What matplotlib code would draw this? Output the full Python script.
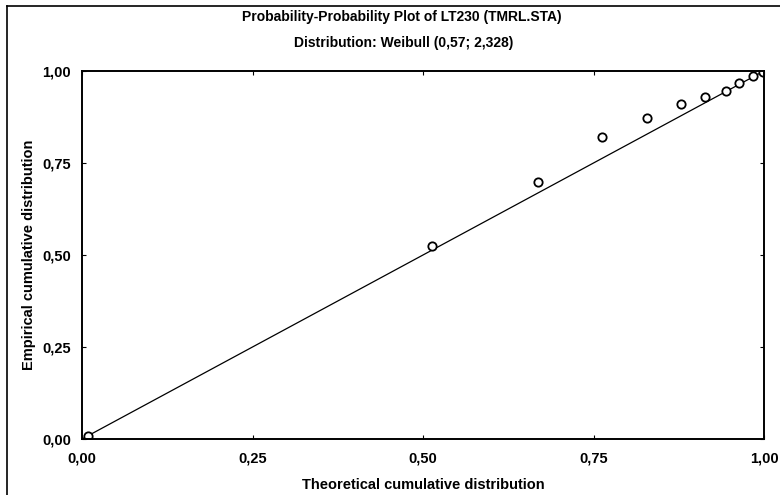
import matplotlib
matplotlib.use("Agg")
import matplotlib.pyplot as plt
from matplotlib import font_manager as fm
from matplotlib.lines import Line2D

names = {f.name for f in fm.fontManager.ttflist}
fam = ['Liberation Sans Narrow', 'Liberation Sans', 'DejaVu Sans'] if 'Liberation Sans Narrow' in names else ['Liberation Sans', 'DejaVu Sans']
plt.rcParams['font.family'] = fam

title1 = "Probability-Probability Plot of LT230 (TMRL.STA)"
title2 = "Distribution: Weibull (0,57; 2,328)"
xlabel = "Theoretical cumulative distribution"
ylabel = "Empirical cumulative distribution"

theoretical = [0.009, 0.513, 0.669, 0.763, 0.829, 0.879, 0.914, 0.944, 0.964, 0.984, 0.998]
empirical = [0.008, 0.525, 0.699, 0.820, 0.871, 0.909, 0.930, 0.946, 0.967, 0.987, 0.998]
ref_line = [0.0, 1.0]
ticks = [0.0, 0.25, 0.5, 0.75, 1.0]
tick_labels = ["0,00", "0,25", "0,50", "0,75", "1,00"]

fig = plt.figure(figsize=(7.8, 4.95), dpi=100)
ax = fig.add_axes([82/780, 1 - 439/495, (764-82)/780, (439-71)/495])

ax.plot(ref_line, ref_line, color='black', lw=0.9)
ax.plot(theoretical, empirical, 'o', mfc='white', mec='black', mew=1.3, ms=6, clip_on=True)

ax.set_xlim(0, 1)
ax.set_ylim(0, 1)
ax.set_xticks(ticks)
ax.set_xticklabels(tick_labels)
ax.set_yticks(ticks)
ax.set_yticklabels(tick_labels)
ax.tick_params(direction='in', length=3, width=0.8, top=True, right=True,
               labelsize=10.5)
ax.tick_params(axis='x', pad=9)
ax.tick_params(axis='y', pad=8)
for lab in ax.get_xticklabels() + ax.get_yticklabels():
    lab.set_fontweight('bold')
for s in ax.spines.values():
    s.set_linewidth(1.4)

ax.set_xlabel(xlabel, fontsize=10.5, fontweight='bold', labelpad=9)
ax.set_ylabel(ylabel, fontsize=10.5, fontweight='bold', labelpad=4)

fig.text(402/780, 1 - 17/495, title1, ha='center', va='center', fontsize=10, fontweight='bold')
fig.text(404/780, 1 - 43/495, title2, ha='center', va='center', fontsize=10, fontweight='bold')

# outer frame (top and left edges)
fig.add_artist(Line2D([7/780, 1], [1 - 6/495, 1 - 6/495], transform=fig.transFigure, color='black', lw=1.2))
fig.add_artist(Line2D([7/780, 7/780], [0, 1 - 6/495], transform=fig.transFigure, color='black', lw=1.2))

fig.savefig("out.png", dpi=100)
